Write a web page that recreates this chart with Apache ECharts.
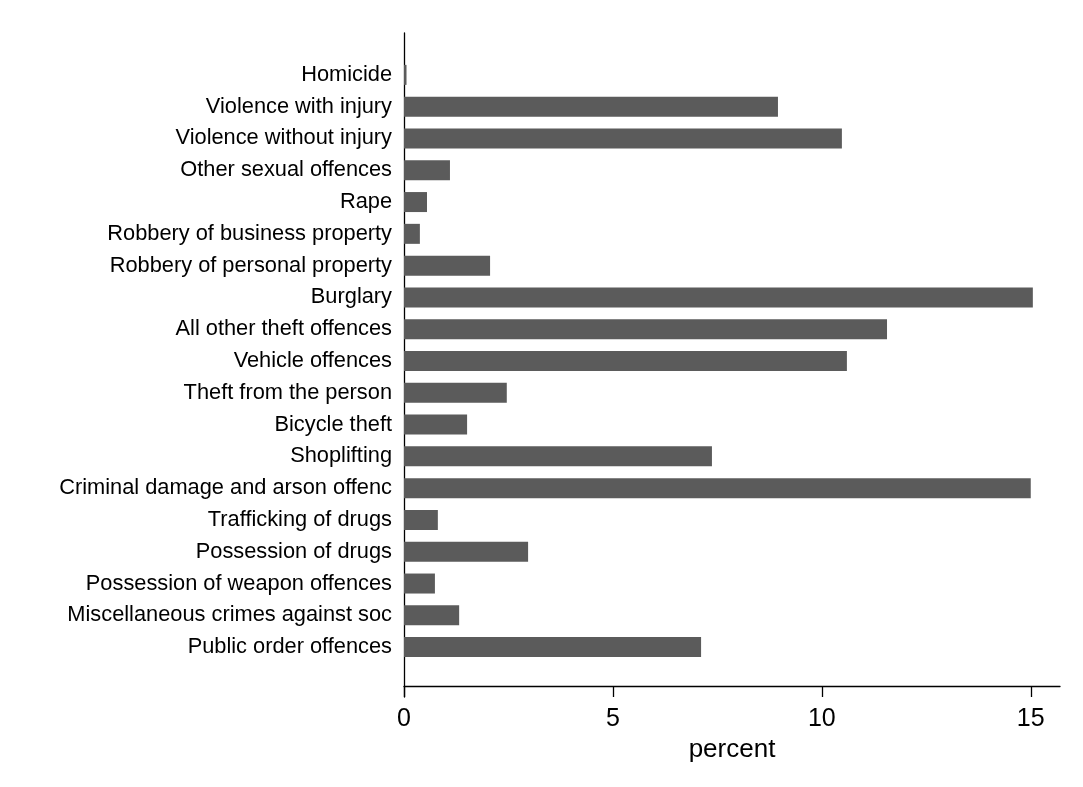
<!DOCTYPE html>
<html>
<head>
<meta charset="utf-8">
<script src="https://cdn.jsdelivr.net/npm/echarts@6/dist/echarts.min.js"></script>
<style>html,body{margin:0;padding:0;background:#fff}#c{width:1083px;height:787px}</style>
</head>
<body>
<div id="c"></div>
<script>
const categories = [
  "Homicide",
  "Violence with injury",
  "Violence without injury",
  "Other sexual offences",
  "Rape",
  "Robbery of business property",
  "Robbery of personal property",
  "Burglary",
  "All other theft offences",
  "Vehicle offences",
  "Theft from the person",
  "Bicycle theft",
  "Shoplifting",
  "Criminal damage and arson offenc",
  "Trafficking of drugs",
  "Possession of drugs",
  "Possession of weapon offences",
  "Miscellaneous crimes against soc",
  "Public order offences"
];
const percentValues = [0.06, 8.95, 10.48, 1.10, 0.55, 0.38, 2.06, 15.05, 11.56, 10.60, 2.46, 1.51, 7.37, 15.0, 0.81, 2.97, 0.74, 1.32, 7.11];
const xTicks = [0, 5, 10, 15];

const chart = echarts.init(document.getElementById('c'), null, {renderer: 'canvas'});
const font = '"Liberation Sans", Arial, sans-serif';
chart.setOption({
  animation: false,
  backgroundColor: '#fff',
  grid: [
    {left: 404, right: 23, top: 59, bottom: 124},
    {left: 404, right: 23, top: 33, bottom: 90}
  ],
  xAxis: [
    {
      type: 'value', gridIndex: 0, min: 0, max: 15.7, interval: 5, offset: 23,
      axisLine: {show: true, lineStyle: {color: '#000', width: 1.3}},
      axisTick: {show: true, length: 11, lineStyle: {color: '#000', width: 1.3},
        customValues: xTicks},
      axisLabel: {fontSize: 25, color: '#000', fontFamily: font, margin: 21,
        customValues: xTicks},
      splitLine: {show: false},
      name: 'percent', nameLocation: 'middle', nameGap: 46,
      nameTextStyle: {fontSize: 26, color: '#000', fontFamily: font}
    },
    {type: 'value', gridIndex: 1, min: 0, max: 15.7, show: false}
  ],
  yAxis: [
    {
      type: 'category', gridIndex: 0, data: categories, inverse: true,
      axisLine: {show: false}, axisTick: {show: false},
      axisLabel: {fontSize: 21.8, color: '#000', fontFamily: font, margin: 12,
        padding: [4, 0, 0, 0]}
    },
    {
      type: 'value', gridIndex: 1, min: 0, max: 1,
      axisLine: {show: true, lineStyle: {color: '#000', width: 1.3}},
      axisTick: {show: false}, axisLabel: {show: false}, splitLine: {show: false}
    }
  ],
  series: [{
    type: 'bar', xAxisIndex: 0, yAxisIndex: 0,
    data: percentValues, barWidth: 20,
    itemStyle: {color: '#5b5b5b'}
  }]
});
</script>
</body>
</html>
